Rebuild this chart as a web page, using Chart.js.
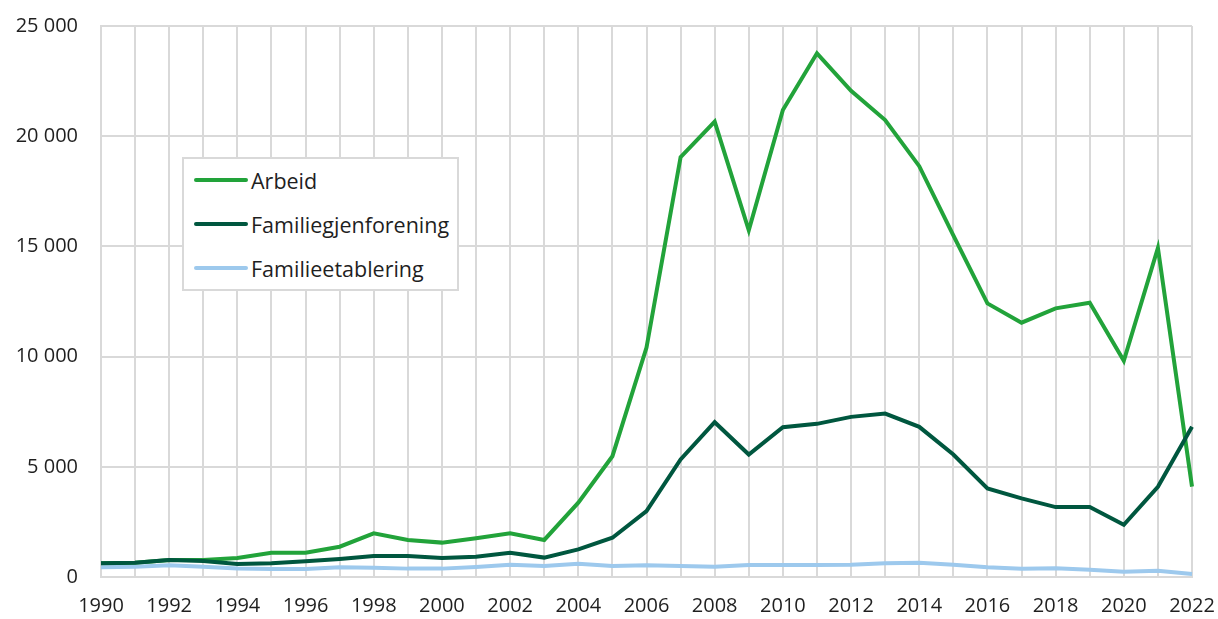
<!DOCTYPE html>
<html>
<head>
<meta charset="utf-8">
<script src="https://cdn.jsdelivr.net/npm/chart.js@4"></script>
<style>
  html, body { margin: 0; padding: 0; background: #fff; }
  #wrap { position: relative; width: 1218px; height: 619px; }
  #legend {
    position: absolute; left: 182px; top: 157px; width: 273px; height: 130px;
    border: 2px solid #d9d9d9; background: #fff; box-sizing: content-box;
    font-family: "Open Sans", sans-serif; font-size: 21.5px; color: #1f1f1f;
  }
  .item { position: absolute; left: 10px; height: 24px; display: flex; align-items: center; white-space: nowrap; }
  .swatch { width: 54px; height: 4px; border-radius: 2px; margin-right: 3px; }
</style>
</head>
<body>
<div id="wrap">
  <canvas id="c" width="1218" height="619"></canvas>
  <div id="legend"></div>
</div>
<script>
const years = ["1990","1991","1992","1993","1994","1995","1996","1997","1998","1999","2000","2001","2002","2003","2004","2005","2006","2007","2008","2009","2010","2011","2012","2013","2014","2015","2016","2017","2018","2019","2020","2021","2022"];
const arbeid = [620,650,770,770,860,1100,1100,1375,1980,1680,1560,1755,1980,1680,3370,5480,10410,19050,20660,15730,21190,23760,22060,20735,18640,15505,12415,11540,12190,12446,9810,14933,4100];
const familiegjenforening = [620,650,770,725,590,620,710,815,950,950,860,920,1100,880,1250,1783,2991,5332,7024,5559,6798,6949,7266,7417,6813,5559,4018,3565,3172,3172,2372,4094,6813];
const familieetablering = [440,470,530,470,390,365,365,440,425,380,380,455,560,500,604,498,528,498,468,544,544,544,559,619,650,559,438,378,393,332,242,287,136];
const seriesNames = ["Arbeid","Familiegjenforening","Familieetablering"];
const seriesColors = ["#22a33a","#00573f","#9dc9ed"];
const yTicks = [0,5000,10000,15000,20000,25000];

const fontFamily = '"Open Sans", sans-serif';
const textColor = '#1f1f1f';
const gridColor = '#d9d9d9';

function fmt(v) { return String(v).replace(/\B(?=(\d{3})+(?!\d))/g, ' '); }

const datasets = [arbeid, familiegjenforening, familieetablering].map((d, i) => ({
  label: seriesNames[i],
  data: d,
  borderColor: seriesColors[i],
  backgroundColor: seriesColors[i],
  borderWidth: 4,
  pointRadius: 0,
  tension: 0,
  order: [3,1,2][i]
}));

new Chart(document.getElementById('c'), {
  type: 'line',
  data: { labels: years, datasets },
  options: {
    responsive: false,
    animation: false,
    layout: { padding: { top: 26, right: 26, left: 0, bottom: 0 } },
    plugins: { legend: { display: false }, tooltip: { enabled: false } },
    scales: {
      x: {
        grid: { color: gridColor, lineWidth: 2, drawTicks: false },
        border: { color: gridColor, width: 2 },
        ticks: {
          autoSkip: false, maxRotation: 0, padding: 17,
          color: textColor, font: { family: fontFamily, size: 20 },
          callback: function(v, i) { const y = years[i]; return (+y % 2 === 0) ? y : ''; }
        },
        afterFit: s => { s.height = 42; s.paddingLeft = 0; s.paddingRight = 0; }
      },
      y: {
        min: 0, max: 25000,
        afterBuildTicks: s => { s.ticks = yTicks.map(v => ({ value: v })); },
        grid: { color: gridColor, lineWidth: 2, drawTicks: false },
        border: { color: gridColor, width: 2 },
        ticks: {
          padding: 23, color: textColor, font: { family: fontFamily, size: 20 },
          callback: v => fmt(v)
        },
        afterFit: s => { s.width = 101; s.paddingTop = 0; s.paddingBottom = 0; }
      }
    }
  }
});

const lg = document.getElementById('legend');
seriesNames.forEach((n, i) => {
  const it = document.createElement('div');
  it.className = 'item';
  it.style.top = (9 + i * 44) + 'px';
  const sw = document.createElement('div');
  sw.className = 'swatch';
  sw.style.background = seriesColors[i];
  const tx = document.createElement('span');
  tx.textContent = n;
  it.appendChild(sw); it.appendChild(tx);
  lg.appendChild(it);
});
</script>
</body>
</html>
